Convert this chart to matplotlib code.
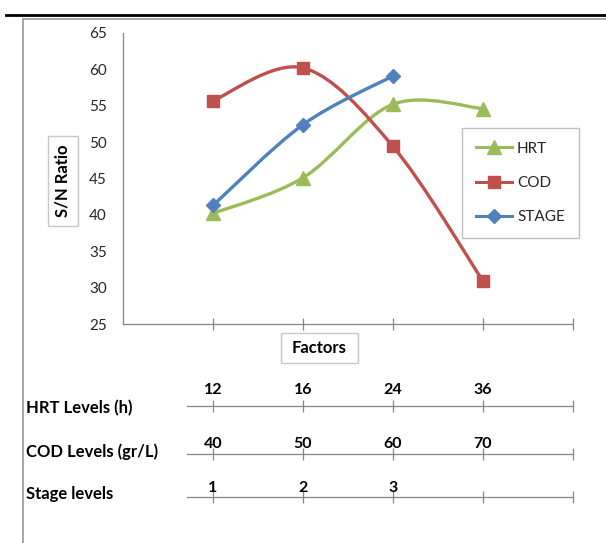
import numpy as np
import matplotlib
matplotlib.use("Agg")
import matplotlib.pyplot as plt
from matplotlib.path import Path
from matplotlib.patches import PathPatch, Rectangle
from matplotlib.lines import Line2D

plt.rcParams["font.family"] = ["Lato", "DejaVu Sans"]

# data
factor_pos = [1, 2, 3, 4]
hrt_sn = [40.2, 45.1, 55.2, 54.6]
cod_sn = [55.7, 60.2, 49.4, 30.9]
stage_sn = [41.3, 52.4, 59.1]

hrt_levels = ["12", "16", "24", "36", ""]
cod_levels = ["40", "50", "60", "70", ""]
stage_levels = ["1", "2", "3", "", ""]
level_ticks = [1, 2, 3, 4, 5]

y_ticks = [25, 30, 35, 40, 45, 50, 55, 60, 65]

W, H = 606, 543


def fx(x):
    return x / W


def fy(y):
    return 1 - y / H


def smooth_path(xs, ys):
    # excel-like smoothed line: cubic bezier through the points
    pts = np.column_stack([xs, ys]).astype(float)
    n = len(pts)
    verts = [pts[0]]
    codes = [Path.MOVETO]
    for i in range(n - 1):
        p0 = pts[max(i - 1, 0)]
        p1 = pts[i]
        p2 = pts[i + 1]
        p3 = pts[min(i + 2, n - 1)]
        verts += [p1 + (p2 - p0) / 6, p2 - (p3 - p1) / 6, p2]
        codes += [Path.CURVE4] * 3
    return Path(verts, codes)


axis_col = "#868686"
txt_col = "#262626"

fig = plt.figure(figsize=(W / 100, H / 100), dpi=100)

# page decoration: black rule and grey frame
fig.add_artist(Line2D([fx(6), 1], [fy(15), fy(15)], color="black", lw=2.0))
fig.add_artist(Line2D([fx(23), fx(23)], [fy(19), 0], color="#a0a0a0", lw=1.3))
fig.add_artist(Line2D([fx(23), 1], [fy(19), fy(19)], color="#a0a0a0", lw=1.3))

ax = fig.add_axes([fx(123), fy(324), (573 - 123) / W, (324 - 33) / H])
ax.set_xlim(0, 5)
ax.set_ylim(25, 65)

series = [
    ("HRT", factor_pos, hrt_sn, "#9BBB59", "^", 10),
    ("COD", factor_pos, cod_sn, "#C0504D", "s", 9),
    ("STAGE", factor_pos[:3], stage_sn, "#4F81BD", "D", 7),
]
handles = []
for name, xs, ys, col, mk, ms in series:
    ax.add_patch(PathPatch(smooth_path(xs, ys), fill=False, edgecolor=col,
                           lw=2.4, capstyle="round", joinstyle="round", zorder=2))
    ax.plot(xs, ys, ls="none", marker=mk, ms=ms, color=col, zorder=3, clip_on=False)
    handles.append(Line2D([], [], color=col, lw=2.2, marker=mk, ms=ms, label=name))

for side in ["top", "right"]:
    ax.spines[side].set_visible(False)
for side in ["left", "bottom"]:
    ax.spines[side].set_color(axis_col)
    ax.spines[side].set_linewidth(0.9)
ax.set_yticks(y_ticks)
ax.set_yticklabels([str(v) for v in y_ticks], fontsize=11, color=txt_col)
ax.tick_params(axis="y", length=0, pad=11.5)
ax.set_xticks(level_ticks)
ax.set_xticklabels([])
ax.tick_params(axis="x", direction="inout", length=9, width=0.9, color=axis_col)

leg = ax.legend(handles=handles, loc="upper left", bbox_to_anchor=(fx(462), fy(128)),
                bbox_transform=fig.transFigure, fontsize=11, frameon=True, fancybox=False,
                edgecolor="#bfbfbf", framealpha=1, handlelength=2.4, handletextpad=0.3,
                labelspacing=1.32, borderpad=0.9, borderaxespad=0)
leg.get_frame().set_linewidth(1.0)
for t in leg.get_texts():
    t.set_color(txt_col)

# axis title boxes
fig.add_artist(Rectangle((fx(48), fy(226)), 30 / W, 90 / H, transform=fig.transFigure,
                         facecolor="white", edgecolor="#c8c8c8", lw=1.0))
fig.text(fx(63), fy(181), "S/N Ratio", rotation=90, ha="center", va="center",
         fontsize=12, fontweight="bold", color="black")
fig.add_artist(Rectangle((fx(281), fy(363)), 77 / W, 30 / H, transform=fig.transFigure,
                         facecolor="white", edgecolor="#c8c8c8", lw=1.0))
fig.text(fx(319), fy(348), "Factors", ha="center", va="center",
         fontsize=12, fontweight="bold", color="black")

# level scales below the chart
rows = [
    ("HRT Levels (h)", hrt_levels, 406, 408, 2.0),
    ("COD Levels (gr/L)", cod_levels, 454, 452, -2.5),
    ("Stage levels", stage_levels, 497, 494, -3.0),
]
for title, labels, line_y, text_y, pad in rows:
    lax = fig.add_axes([fx(123), fy(line_y), (573 - 123) / W, 1e-4])
    lax.set_xlim(0, 5)
    lax.set_ylim(0, 1)
    lax.patch.set_visible(False)
    for side in ["top", "right", "left"]:
        lax.spines[side].set_visible(False)
    lax.spines["bottom"].set_color(axis_col)
    lax.spines["bottom"].set_linewidth(0.9)
    lax.spines["bottom"].set_bounds(0.71, 5)
    lax.set_yticks([])
    lax.set_xticks(level_ticks)
    lax.set_xticklabels(labels, fontsize=11.5, fontweight="bold", color="black")
    lax.tick_params(axis="x", direction="inout", length=9, width=0.9, color=axis_col,
                    bottom=True, top=False, labelbottom=False, labeltop=True, pad=pad)
    fig.text(fx(26), fy(text_y), title, ha="left", va="center",
             fontsize=12, fontweight="bold", color="black")

fig.savefig("out.png", dpi=100)
